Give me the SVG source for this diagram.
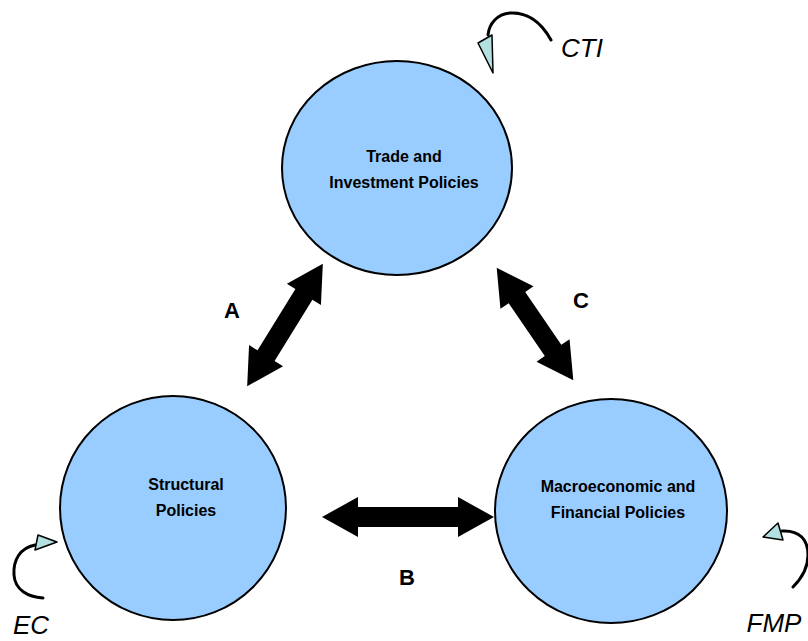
<svg xmlns="http://www.w3.org/2000/svg" width="808" height="641" viewBox="0 0 808 641">
<style>
.node{fill:#99CCFF;stroke:#000;stroke-width:2}
.nt{font-family:"Liberation Sans",Arial,sans-serif;font-weight:bold;font-size:16px;text-anchor:middle;fill:#000}
.lbl{font-family:"Liberation Sans",Arial,sans-serif;font-weight:bold;font-size:22px;text-anchor:middle;fill:#000}
.it{font-family:"Liberation Sans",Arial,sans-serif;font-style:italic;font-size:26px;text-anchor:middle;fill:#000}
.cur{fill:none;stroke:#000;stroke-width:3;stroke-linecap:round}
.tri{fill:#B3E0E0;stroke:#000;stroke-width:1.5;stroke-linejoin:round}
.dbl{fill:#000}
</style>
<rect width="808" height="641" fill="#fff"/>
<g id="node-trade">
<ellipse class="node" cx="397" cy="168" rx="115" ry="107"/>
<text class="nt" x="404" y="162">Trade and</text>
<text class="nt" x="404" y="188">Investment Policies</text>
</g>
<g id="node-structural">
<ellipse class="node" cx="173" cy="508" rx="113" ry="112"/>
<text class="nt" x="186" y="490">Structural</text>
<text class="nt" x="186" y="516">Policies</text>
</g>
<g id="node-macro">
<ellipse class="node" cx="611" cy="511" rx="116" ry="112"/>
<text class="nt" x="618" y="492">Macroeconomic and</text>
<text class="nt" x="618" y="518">Financial Policies</text>
</g>
<g id="connectors">
<g id="arrow-A" transform="translate(285,325) rotate(-58.3)">
<polygon class="dbl" points="-72,0 -36,-20 -36,-10 36,-10 36,-20 72,0 36,20 36,10 -36,10 -36,20"/>
</g>
<g id="arrow-C" transform="translate(535,324) rotate(55.7)">
<polygon class="dbl" points="-68,0 -32,-20 -32,-10 32,-10 32,-20 68,0 32,20 32,10 -32,10 -32,20"/>
</g>
<g id="arrow-B" transform="translate(408,517)">
<polygon class="dbl" points="-86,0 -50,-20 -50,-10 50,-10 50,-20 86,0 50,20 50,10 -50,10 -50,20"/>
</g>
<text class="lbl" x="232" y="318">A</text>
<text class="lbl" x="581" y="308">C</text>
<text class="lbl" x="407" y="585">B</text>
</g>
<g id="cti">
<path class="cur" d="M551,40 C540,20 525,12 510,13 C497,14 489,24 488,35"/>
<polygon class="tri" points="478,43 492,35 493,73"/>
<text class="it" x="582" y="57">CTI</text>
</g>
<g id="ec">
<path class="cur" d="M35,545 C20,548 13,560 14,575 C15,590 28,597 43,598"/>
<polygon class="tri" points="35,550 38,535 57,542"/>
<text class="it" x="31" y="634">EC</text>
</g>
<g id="fmp">
<path class="cur" d="M782,531 C800,530 808,540 808,555 C808,570 800,580 793,587"/>
<polygon class="tri" points="763,537 778,523 783,540"/>
<text class="it" x="774" y="632">FMP</text>
</g>
</svg>
